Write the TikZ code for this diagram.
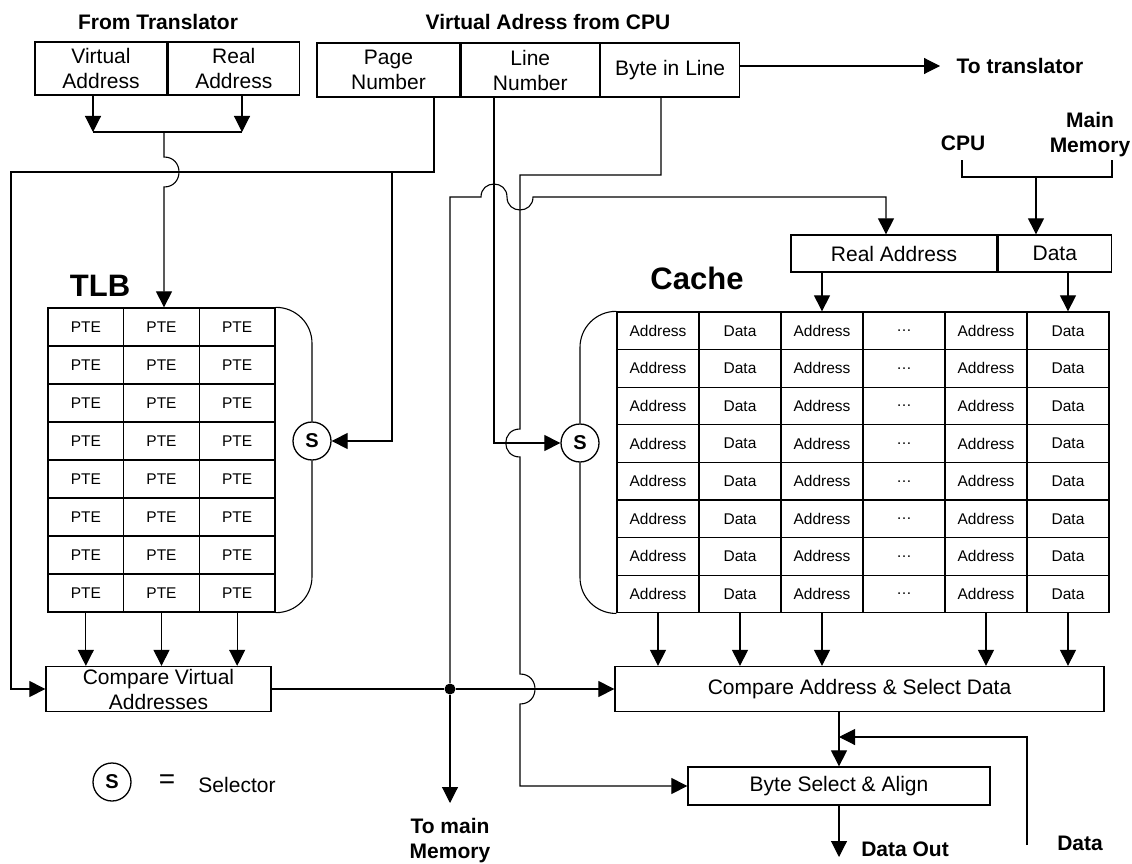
\documentclass[tikz,border=0pt]{standalone}
\usepackage{fontspec}
\setmainfont{Liberation Sans}
\usetikzlibrary{positioning, arrows.meta}

\begin{document}
\begin{tikzpicture}
		[x=1pt, y=-1pt, line width=1.1,
		box/.style={draw, line width=1.3, inner sep=0, align=center, font=\fontsize{21}{25}\selectfont},
		cell/.style={draw, line width=1.3, inner sep=0, font=\fontsize{15.5}{18}\selectfont},
		lbl/.style={align=center, font=\bfseries\fontsize{21}{25}\selectfont},
		title/.style={font=\bfseries\fontsize{31}{36}\selectfont},
		sel/.style={circle, draw, line width=1.3, minimum size=38, inner sep=0, font=\bfseries\fontsize{20}{24}\selectfont},
		arr/.style={-{Triangle[length=16pt, width=16pt]}}]

		\useasboundingbox (0,0) rectangle (1132,864);

		% top boxes %
		\node[lbl] (ft) at (158,22) {From Translator};
		\node[box, minimum width=132, minimum height=53] (va) at (101,68.5) {Virtual\\Address};
		\node[box, minimum width=131, minimum height=53, right=0pt of va] (ra) {Real\\Address};

		\node[lbl] (vc) at (548,22) {Virtual Adress from CPU};
		\node[box, minimum width=143, minimum height=54] (pn) at (388.5,70) {Page\\Number};
		\node[box, minimum width=138, minimum height=54, right=0pt of pn] (ln) {Line\\Number};
		\node[box, minimum width=139, minimum height=54, right=0pt of ln] (bil) {Byte in Line};
		\node[lbl] (totr) at (1020,66) {To translator};

		\node[lbl] (cpu) at (963,143) {CPU};
		\node[lbl] (mm) at (1090,135) {Main\\Memory};
		\node[box, minimum width=206, minimum height=37] (ra2) at (894,253.5) {Real Address};
		\node[box, minimum width=113, minimum height=37, right=0pt of ra2] (da2) {Data};

		% TLB %
		\node[title] (tlbl) at (100,286) {TLB};
		\foreach \r in {1,...,8}
			\foreach \c in {1,2,3}
				\node[cell, minimum width=75.67, minimum height=38] (tlb-\r-\c) at ({48+75.67*(\c-0.5)},{308+38*(\r-0.5)}) {PTE};
		\node[sel] (st) at (312,441) {S};

		% cache %
		\node[title] (cl) at (697,278) {Cache};
		\foreach \r in {1,...,8}
			\foreach \c/\t in {1/Address,2/Data,3/Address,4/\ldots,5/Address,6/Data}
				\node[cell, minimum width=82, minimum height=37.6] (cache-\r-\c) at ({617+82*(\c-0.5)},{312+37.6*(\r-0.5)}) {\t};
		\node[sel] (sc) at (580,443) {S};

		% lower boxes %
		\node[box, minimum width=225, minimum height=45] (cva) at (158.5,689) {Compare Virtual\\Addresses};
		\node[box, minimum width=489, minimum height=45] (casd) at (859.5,689) {Compare Address \& Select Data};
		\node[box, minimum width=302, minimum height=38] (bsa) at (839,786) {Byte Select \& Align};
		\node[circle, fill, inner sep=0, minimum size=11] (dot) at (450,689) {};

		\node[lbl] (tmm) at (450,841) {To main\\Memory};
		\node[lbl] (dout) at (905,849) {Data Out};
		\node[lbl] (dl) at (1080,843) {Data};

		% legend %
		\node[sel] (sl) at (112,782) {S};
		\node[font=\fontsize{28}{32}\selectfont] (eq) at (167,782) {=};
		\node[font=\fontsize{21}{25}\selectfont] (selt) at (237,785) {Selector};

		% coordinates %
		\coordinate (bl) at (93,132);
		\coordinate (br) at (242,132);
		\coordinate (bm) at (164,132);
		\coordinate (tt) at (940,66);
		\coordinate (pg) at (434,172);
		\coordinate (pl) at (11,172);
		\coordinate (ps) at (392,172);
		\coordinate (lx) at (494,443);
		\coordinate (bt) at (661,175);
		\coordinate (rc) at (886,197);
		\coordinate (cb) at (962,160);
		\coordinate (mb) at (1112,160);
		\coordinate (cm) at (1036,177);
		\coordinate (tm) at (450,803);
		\coordinate (dj) at (839,737);
		\coordinate (di) at (1027,845);
		\coordinate (dt) at (839,857);

		% edges %
		\draw[arr] (va.south -| bl) -- (bl);
		\draw[arr] (ra.south -| br) -- (br);
		\draw (bl) -- (br);
		\draw[arr] (bm) -- (164,157) .. controls (184,157) and (184,187) .. (164,187) -- (tlb-1-2.north -| bm);

		\draw[arr] (bil.east |- tt) -- (tt);
		\draw[arr] (pn.south -| pg) -- (pg) -- (pl) |- (cva.west);
		\draw[arr] (ps) |- (st.east);
		\draw[arr] (ln.south -| lx) -- (lx) -- (sc.west);
		\draw[arr] (bil.south -| bt) -- (bt) -- (520,175) -- (520,429) .. controls (501,429) and (501,457) .. (520,457)
			-- (520,674) .. controls (540,674) and (540,704) .. (520,704) |- (bsa.west);

		\draw (cva.east) -- (dot);
		\draw[arr] (dot) -- (casd.west);
		\draw[arr] (dot) -- (tm);
		\draw[arr] (dot) -- (450,197) -- (481,197) .. controls (481,179.7) and (507,179.7) .. (507,197)
			.. controls (507,214.3) and (533,214.3) .. (533,197) -- (rc) -- (ra2.north -| rc);

		\draw (cb) -- (cb |- cm) -- (mb |- cm) -- (mb);
		\draw[arr] (cm) -- (da2.north -| cm);
		\draw[arr] (cache-1-3.north |- ra2.south) -- (cache-1-3.north);
		\draw[arr] (cache-1-6.north |- da2.south) -- (cache-1-6.north);

		\draw[rounded corners=36pt] (tlb-1-3.north east) -| (st.north);
		\draw[rounded corners=36pt] (st.south) |- (tlb-8-3.south east);
		\draw[rounded corners=36pt] (cache-1-1.north west) -| (sc.north);
		\draw[rounded corners=36pt] (sc.south) |- (cache-8-1.south west);

		\foreach \c in {1,2,3}
			\draw[arr] (tlb-8-\c.south) -- (tlb-8-\c.south |- cva.north);
		\foreach \c in {1,2,3,5,6}
			\draw[arr] (cache-8-\c.south) -- (cache-8-\c.south |- casd.north);

		\draw[arr] (bsa.north |- casd.south) -- (bsa.north);
		\draw[arr] (di) |- (dj);
		\draw[arr] (bsa.south) -- (dt);

\end{tikzpicture}
\end{document}
